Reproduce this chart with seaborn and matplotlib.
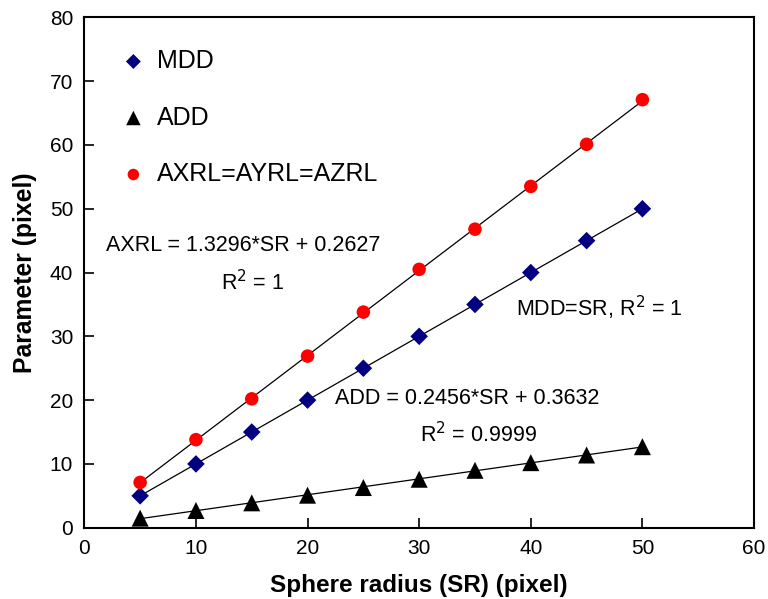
import numpy as np
import pandas as pd
import seaborn as sns
import matplotlib.pyplot as plt

# values
sr = [5, 10, 15, 20, 25, 30, 35, 40, 45, 50]
mdd = [5, 10, 15, 20, 25, 30, 35, 40, 45, 50]
add = [1.5, 2.7, 3.9, 5.1, 6.3, 7.6, 9.0, 10.2, 11.4, 12.7]
axrl = [7.1, 13.8, 20.2, 26.9, 33.8, 40.5, 46.8, 53.5, 60.1, 67.1]
series_names = ['MDD', 'ADD', 'AXRL=AYRL=AZRL']
series_vals = [mdd, add, axrl]
colors = ['#000080', 'black', '#ff0000']
markers = ['D', '^', 'o']
sizes = [80, 150, 95]

sns.set_style('ticks')
plt.rcParams['font.family'] = ['Liberation Sans', 'DejaVu Sans']
plt.rcParams.update({'text.color': 'black', 'axes.labelcolor': 'black',
                     'xtick.color': 'black', 'ytick.color': 'black',
                     'axes.edgecolor': 'black'})

fig = plt.figure(figsize=(7.68, 5.99), dpi=100)
ax = fig.add_axes([0.1098, 0.119, 0.872, 0.852])

for name, vals, c, m, s in zip(series_names, series_vals, colors, markers, sizes):
    df = pd.DataFrame({'SR': sr, 'value': vals})
    # fitted trend line
    sns.regplot(data=df, x='SR', y='value', ax=ax, scatter=False, ci=None,
                line_kws={'color': 'black', 'lw': 0.9})
    sns.scatterplot(data=df, x='SR', y='value', color=c, marker=m, s=s,
                    edgecolor='none', ax=ax, zorder=3, label=name)

leg = ax.legend(frameon=False, loc='upper left', bbox_to_anchor=(0.021, 0.982),
                fontsize=18, labelspacing=1.3, handlelength=1.0, handletextpad=0.45,
                markerscale=0.85)

ax.text(14.2, 44.3, 'AXRL = 1.3296*SR + 0.2627', fontsize=15.5, ha='center', va='center')
ax.text(15.1, 38.5, 'R$^2$ = 1', fontsize=15.5, ha='center', va='center')
ax.text(38.7, 34.5, 'MDD=SR, R$^2$ = 1', fontsize=15.5, ha='left', va='center')
ax.text(22.5, 20.3, 'ADD = 0.2456*SR + 0.3632', fontsize=15.5, ha='left', va='center')
ax.text(30.1, 14.6, 'R$^2$ = 0.9999', fontsize=15.5, ha='left', va='center')

ax.set_xlim(0, 60)
ax.set_ylim(0, 80)
ax.set_xticks(range(0, 61, 10))
ax.set_yticks(range(0, 81, 10))
ax.tick_params(direction='in', length=7, width=1.2, labelsize=15, pad=8)
for sp in ax.spines.values():
    sp.set_linewidth(1.5)
ax.set_xlabel('Sphere radius (SR) (pixel)', fontsize=17.5, fontweight='bold', labelpad=12)
ax.set_ylabel('Parameter (pixel)', fontsize=17.8, fontweight='bold', labelpad=9)

fig.savefig('out.png', dpi=100)
